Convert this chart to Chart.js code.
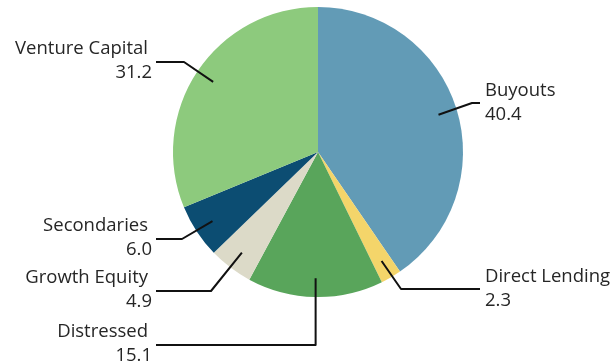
<!DOCTYPE html>
<html>
<head>
<meta charset="utf-8">
<script src="https://cdn.jsdelivr.net/npm/chart.js@4"></script>
<style>
  html, body { margin: 0; padding: 0; background: #ffffff; }
  #wrap { width: 611px; height: 363px; }
</style>
</head>
<body>
<div id="wrap"><canvas id="c" width="611" height="363"></canvas></div>
<script>
const categories = ["Buyouts", "Direct Lending", "Distressed", "Growth Equity", "Secondaries", "Venture Capital"];
const values = [40.4, 2.3, 15.1, 4.9, 6.0, 31.2];
const valueLabels = ["40.4", "2.3", "15.1", "4.9", "6.0", "31.2"];
const colors = ["#629bb6", "#f4d56a", "#59a55b", "#dcdac8", "#0c4d72", "#8dca7d"];

// leader-line layout: elbow point, line end, side
const labelLayout = [
  { elbow: [472, 103], end: [480, 103], side: "right" },
  { elbow: [401, 289], end: [480, 289], side: "right" },
  { elbow: null,       end: [156, 345], side: "left", vertical: true },
  { elbow: [211, 291], end: [156, 291], side: "left" },
  { elbow: [182, 239], end: [156, 239], side: "left" },
  { elbow: [184, 62],  end: [156, 62],  side: "left" }
];

const leaderPlugin = {
  id: "leaders",
  afterDatasetsDraw(chart) {
    const ctx = chart.ctx;
    const meta = chart.getDatasetMeta(0);
    ctx.save();
    meta.data.forEach((arc, i) => {
      const p = arc.getProps(["x", "y", "startAngle", "endAngle", "outerRadius"], true);
      const mid = (p.startAngle + p.endAngle) / 2;
      const r = p.outerRadius * 0.87;
      const ax = p.x + Math.cos(mid) * r;
      const ay = p.y + Math.sin(mid) * r;
      const L = labelLayout[i];
      ctx.strokeStyle = "#111111";
      ctx.lineWidth = 2;
      ctx.lineJoin = "round";
      ctx.beginPath();
      ctx.moveTo(ax, ay);
      if (L.vertical) {
        ctx.lineTo(ax, L.end[1]);
      } else {
        ctx.lineTo(L.elbow[0], L.elbow[1]);
      }
      ctx.lineTo(L.end[0], L.end[1]);
      ctx.stroke();

      ctx.fillStyle = "#262626";
      ctx.font = "18.5px 'Open Sans'";
      ctx.textBaseline = "middle";
      const ly = L.end[1];
      if (L.side === "right") {
        ctx.textAlign = "left";
        ctx.fillText(categories[i], 485, ly - 12);
        ctx.fillText(valueLabels[i], 485, ly + 12);
      } else {
        ctx.textAlign = "right";
        ctx.fillText(categories[i], 148, ly - 13);
        ctx.fillText(valueLabels[i], 152, ly + 11);
      }
    });
    ctx.restore();
  }
};

new Chart(document.getElementById("c"), {
  type: "pie",
  data: {
    labels: categories,
    datasets: [{
      data: values,
      backgroundColor: colors,
      borderWidth: 0
    }]
  },
  options: {
    responsive: false,
    animation: false,
    layout: { padding: { top: 7, bottom: 66, left: 25, right: 0 } },
    plugins: {
      legend: { display: false },
      tooltip: { enabled: false }
    }
  },
  plugins: [leaderPlugin]
});
</script>
</body>
</html>
